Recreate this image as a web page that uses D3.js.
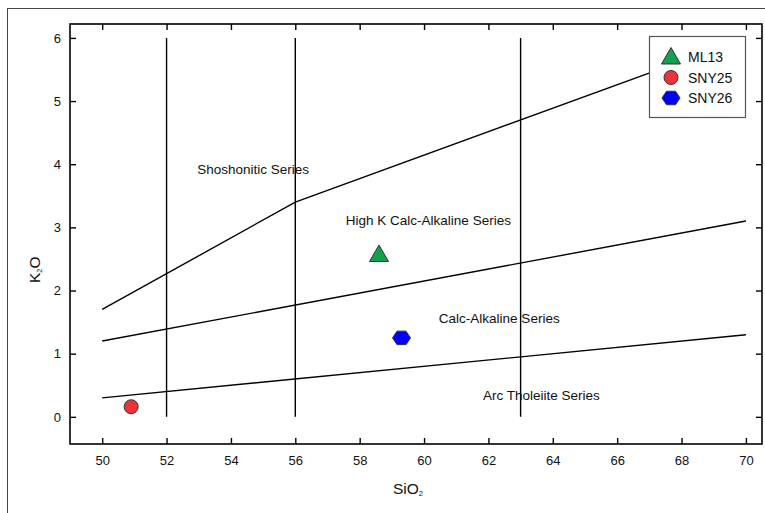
<!DOCTYPE html>
<html>
<head>
<meta charset="utf-8">
<script src="https://cdn.jsdelivr.net/npm/d3@7"></script>
<style>
  body { margin: 0; background: #fff; }
  svg { display: block; font-family: Arial, "Liberation Sans", sans-serif; }
</style>
</head>
<body>
<svg id="chart" width="765" height="513"></svg>
<script>
// Sample compositions (wt%)
const sampleNames = ["ML13", "SNY25", "SNY26"];
const sampleSiO2 = [58.6, 50.9, 59.3];
const sampleK2O = [2.57, 0.16, 1.25];
const sampleFill = ["#13a04f", "#ee3338", "#0000ff"];
const sampleShape = ["triangle", "circle", "hexagon"];

// Field boundaries (SiO2 vs K2O)
const shoshoniticBoundary = [[50, 1.7], [56, 3.4], [70, 6.0]];
const highKBoundary = [[50, 1.2], [70, 3.1]];
const tholeiiteBoundary = [[50, 0.3], [70, 1.3]];
const siO2Dividers = [52, 56, 63];

// Field names and anchor points
const fieldNames = ["Shoshonitic Series", "High K Calc-Alkaline Series", "Calc-Alkaline Series", "Arc Tholeiite Series"];
const fieldAnchors = [[52.95, 3.85], [57.57, 3.03], [60.46, 1.49], [61.83, 0.27]];

const xTicks = [50, 52, 54, 56, 58, 60, 62, 64, 66, 68, 70];
const yTicks = [0, 1, 2, 3, 4, 5, 6];

const svg = d3.select("#chart");
const L = 70, T = 24, R = 762, B = 444;

const x = d3.scaleLinear().domain([49.0, 70.5]).range([L, R]);
const y = d3.scaleLinear().domain([-0.43, 6.22]).range([B, T]);

// outer frame
svg.append("rect").attr("x", 7.5).attr("y", 8.5).attr("width", 800).attr("height", 600)
  .attr("fill", "none").attr("stroke", "#444").attr("stroke-width", 1);

const line = d3.line().x(d => x(d[0])).y(d => y(d[1]));
const lines = svg.append("g").attr("fill", "none").attr("stroke", "#000").attr("stroke-width", 1.4);
[shoshoniticBoundary, highKBoundary, tholeiiteBoundary].forEach(b => {
  lines.append("path").attr("d", line(b));
});
siO2Dividers.forEach(s => {
  lines.append("path").attr("d", line([[s, 0], [s, 6]]));
});

// field labels
svg.append("g").attr("font-size", 13.5).attr("fill", "#111")
  .selectAll("text").data(fieldNames).join("text")
  .attr("x", (d, i) => x(fieldAnchors[i][0]))
  .attr("y", (d, i) => y(fieldAnchors[i][1]))
  .text(d => d);

// axes with inward ticks
const tk = 6;
const axB = svg.append("g").attr("transform", `translate(0,${B})`)
  .call(d3.axisBottom(x).tickValues(xTicks).tickSizeInner(-tk).tickSizeOuter(0).tickPadding(12).tickFormat(d3.format("d")));
const axT = svg.append("g").attr("transform", `translate(0,${T})`)
  .call(d3.axisTop(x).tickValues(xTicks).tickSizeInner(-tk).tickSizeOuter(0).tickFormat(""));
const axL = svg.append("g").attr("transform", `translate(${L},0)`)
  .call(d3.axisLeft(y).tickValues(yTicks).tickSizeInner(-tk).tickSizeOuter(0).tickPadding(9).tickFormat(d3.format("d")));
const axR = svg.append("g").attr("transform", `translate(${R},0)`)
  .call(d3.axisRight(y).tickValues(yTicks).tickSizeInner(-tk).tickSizeOuter(0).tickFormat(""));
[axB, axT, axL, axR].forEach(a => {
  a.select(".domain").remove();
  a.selectAll("line").attr("stroke", "#000").attr("stroke-width", 1.4);
  a.selectAll("text").attr("font-family", "Arial, 'Liberation Sans', sans-serif")
    .attr("font-size", 13).attr("fill", "#111");
});

svg.append("rect").attr("x", L).attr("y", T).attr("width", R - L).attr("height", B - T)
  .attr("fill", "none").attr("stroke", "#000").attr("stroke-width", 1.6);

// axis titles
const xt = svg.append("text").attr("x", 393).attr("y", 494).attr("font-size", 15.5).attr("fill", "#111");
xt.append("tspan").text("SiO");
xt.append("tspan").attr("font-size", 7.5).attr("dy", 2).text("2");

const yt = svg.append("text").attr("transform", "translate(40,283) rotate(-90)").attr("font-size", 15.5).attr("fill", "#111");
yt.append("tspan").text("K");
yt.append("tspan").attr("font-size", 7.5).attr("dy", 2).text("2");
yt.append("tspan").attr("dy", -2).text("O");

// marker shapes
function marker(sel, shape) {
  if (shape === "triangle") {
    sel.append("path").attr("d", "M0,-9.5 L9.5,7 L-9.5,7 Z");
  } else if (shape === "circle") {
    sel.append("circle").attr("r", 7);
  } else {
    const pts = d3.range(6).map(k => {
      const a = k * Math.PI / 3;
      return [9 * Math.cos(a), 7.8 * Math.sin(a)];
    });
    sel.append("path").attr("d", "M" + pts.map(p => p.join(",")).join("L") + "Z");
  }
}

const pts = svg.append("g");
sampleNames.forEach((n, i) => {
  const g = pts.append("g").attr("transform", `translate(${x(sampleSiO2[i])},${y(sampleK2O[i])})`)
    .attr("fill", sampleFill[i]).attr("stroke", "#333").attr("stroke-width", 1);
  marker(g, sampleShape[i]);
});

// legend
const lg = svg.append("g");
lg.append("rect").attr("x", 649.5).attr("y", 36.5).attr("width", 96).attr("height", 81)
  .attr("fill", "#fff").attr("stroke", "#555").attr("stroke-width", 1.2);
sampleNames.forEach((n, i) => {
  const cy = 57 + i * 20.5;
  const g = lg.append("g").attr("transform", `translate(671,${cy})`)
    .attr("fill", sampleFill[i]).attr("stroke", "#333").attr("stroke-width", 1);
  marker(g, sampleShape[i]);
  lg.append("text").attr("x", 688).attr("y", cy + 5).attr("font-size", 14).attr("fill", "#111").text(n);
});
</script>
</body>
</html>
